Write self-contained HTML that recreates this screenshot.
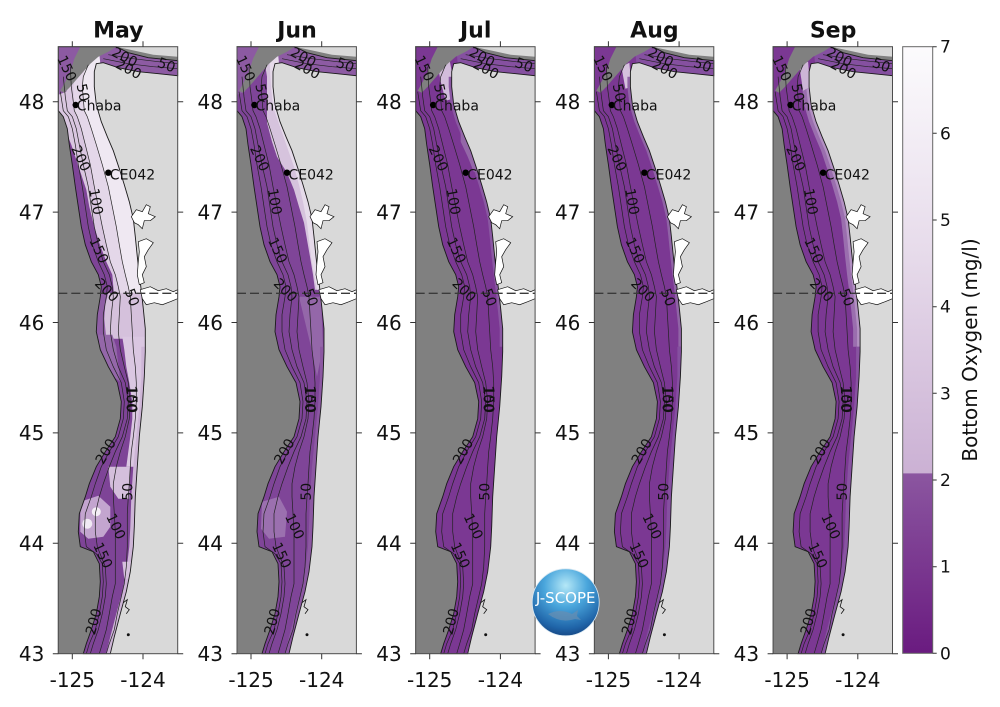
<!DOCTYPE html>
<html>
<head>
<meta charset="utf-8">
<style>
html,body{margin:0;padding:0;background:#fff;}
svg{display:block;}
text{font-family:"DejaVu Sans","Liberation Sans",sans-serif;fill:#111;}
.tt{font-size:22px;font-weight:bold;text-anchor:middle;}
.yl{font-size:20px;text-anchor:end;}
.xl{font-size:20px;text-anchor:middle;}
.cl{font-size:14px;text-anchor:middle;dominant-baseline:central;}
.pl{font-size:14px;}
.cb{font-size:17px;}
</style>
</head>
<body>
<svg width="1000" height="707" viewBox="0 0 1000 707" xmlns="http://www.w3.org/2000/svg">
<defs>
<path id="shelfP" d="M0,0 L58,0 L70,6 L90,11 L119.4,14 L119.4,29 L100,27 L80,25 L60,21 L45,16 L38,17 L36,25 L36,40 L38,58 L43,75 L49,90 L55,104 L61,122 L66,138 L71,155 L75,172 L77,190 L79,210 L81,228 L83,244 L85,262 L87,282 L87,305 L86,330 L84,360 L81,390 L79,420 L77,450 L76,480 L75,500 L72,525 L68,545 L62,567 L56,590 L52,607 L25,607 L28,597 L33,583 L38,567 L41,550 L42,535 L41,517 L35,505 L22,500 L20,485 L21,467 L27,450 L31,437 L38,420 L47,405 L57,390 L62,372 L63,355 L59,336 L50,320 L42,303 L38,285 L39,268 L42,250 L43,240 L40,228 L33,215 L27,198 L23,180 L20,160 L17,140 L14,118 L11,98 L9,82 L5,70 L0,64 Z"/>
<clipPath id="sc"><use href="#shelfP"/></clipPath>
<g id="base">
<rect x="0" y="0" width="119.4" height="607" fill="#d9d9d9"/>
<path d="M-0.5,64 L0,64 L5,70 L9,82 L11,98 L14,118 L17,140 L20,160 L23,180 L27,198 L33,215 L40,228 L43,240 L42,250 L39,268 L38,285 L42,303 L50,320 L59,336 L63,355 L62,372 L57,390 L47,405 L38,420 L31,437 L27,450 L21,467 L20,485 L22,500 L35,505 L41,517 L42,535 L41,550 L38,567 L33,583 L28,597 L25,607 L-0.5,607 Z" fill="#808080"/>
</g>
<g id="canyon">
<path d="M22,0 L58,0 L50,5 L40,10 L32,17 L25,25 L18,33 L12,40 L6,46 L2,44 L7,35 L12,25 L16,12 Z" fill="#808080"/>
<path d="M58,0 L72,3 L95,8 L119.4,10 L119.4,14 L90,11 L70,6 Z" fill="#808080"/>
</g>
<g id="over">
<g fill="none" stroke="#222" stroke-width="0.7">
<path d="M2,45 L5,64 L10,70 L14,82 L17,98 L20,118 L24,140 L27,160 L30,180 L34,198 L40,215 L46,228 L49,240 L48,250 L45,268 L45,285 L48,303 L55,320 L63,336 L66,355 L65,372 L60,390 L51,405 L43,420 L37,437 L33,450 L27,467 L26,485 L28,500 L38,507 L44,517 L45,535 L44,550 L41,567 L37,583 L31,597 L28,607"/>
<path d="M5,30 L7,50 L9,64 L14,70 L18,82 L21,98 L25,118 L30,140 L33,160 L36,180 L40,198 L45,215 L51,228 L54,240 L55,250 L53,268 L52,285 L55,303 L60,320 L67,336 L70,355 L69,372 L64,390 L57,405 L51,420 L45,437 L41,450 L37,467 L37,485 L39,500 L43,510 L47,520 L48,537 L47,550 L44,567 L40,583 L35,597 L32,607"/>
<path d="M12,20 L13,40 L15,55 L16,64 L19,70 L23,82 L27,98 L32,118 L36,140 L40,160 L44,180 L48,198 L52,215 L57,228 L60,240 L62,250 L61,268 L60,285 L62,303 L66,320 L70,336 L72,355 L71,372 L67,390 L62,405 L58,420 L55,437 L55,450 L56,467 L57,485 L57,500 L57,520 L57,537 L54,550 L51,567 L48,583 L44,597 L41,607"/>
<path d="M30,18 L25,30 L24,40 L26,64 L29,70 L33,82 L38,98 L44,118 L50,140 L54,160 L58,180 L61,198 L64,215 L67,228 L70,240 L72,250 L73,268 L74,285 L75,303 L77,320 L78,336 L78,355 L77,372 L75,390 L73,405 L72,420 L71,437 L70,450 L69,467 L69,485 L69,500 L68,520 L66,537 L63,550 L59,567 L56,583 L51,597 L48,607"/>
<path d="M45,12 L70,17 L95,20 L119.4,22"/>
<path d="M50,8 L75,12 L100,15 L119.4,17"/>
</g>
<use href="#shelfP" fill="none" stroke="#1a1a1a" stroke-width="0.9"/>
<g fill="#fff" stroke="#111" stroke-width="0.7">
<path d="M73,170 L78,163 L84,165 L88,158 L92,160 L90,167 L97,170 L92,174 L86,174 L84,182 L80,178 L76,176 Z"/>
<path d="M80,195 L88,192 L95,196 L90,203 L86,210 L88,220 L84,228 L86,236 L81,238 L79,228 L80,215 L81,205 Z"/>
<path d="M82,243 L92,240 L100,244 L108,242 L115,245 L119.4,243 L119.4,252 L112,255 L104,258 L96,256 L88,258 L84,252 Z"/>
</g>
<path d="M65,556 L69,553 L67,560 L71,563 L68,567" fill="none" stroke="#111" stroke-width="0.8"/>
<circle cx="70" cy="588" r="1.5" fill="#111"/>
<line x1="0" y1="246.6" x2="119.4" y2="246.6" stroke="#3a3a3a" stroke-width="1.3" stroke-dasharray="9,4"/>
<circle cx="17.4" cy="58.3" r="3.2" fill="#000"/>
<circle cx="50" cy="126" r="3.2" fill="#000"/>
<rect x="0" y="0" width="119.4" height="607" fill="none" stroke="#4d4d4d" stroke-width="1"/>
<path d="M0,55h-5.5M0,165.4h-5.5M0,275.8h-5.5M0,386.2h-5.5M0,496.6h-5.5M0,607h-5.5M119.4,55h5.5M119.4,165.4h5.5M119.4,275.8h5.5M119.4,386.2h5.5M119.4,496.6h5.5M119.4,607h5.5M14,0v-5.5M84.7,0v-5.5M14,607v5.5M84.7,607v5.5" stroke="#333" stroke-width="1" fill="none"/>
</g>
<path id="cs7" d="M29,30 L29,40 L31,58 L36,75 L42,90 L48,104 L54,122 L59,138 L64,155 L68,172 L70,190 L72,210 L74,228 L76,244 L78,262 L80,282 L80,300 L130,300 L130,30 Z"/>
<path id="cs3" d="M33,30 L33,40 L35,58 L40,75 L46,90 L52,104 L58,122 L63,138 L68,155 L72,172 L74,190 L76,210 L78,228 L80,244 L82,262 L84,282 L84,300 L130,300 L130,30 Z"/>
<path id="css" d="M83,300 L83,330 L81,360 L78,390 L75,420 L73,450 L72,480 L71,500 L68,525 L64,545 L58,567 L52,590 L48,607 L130,607 L130,300 Z"/>
<path id="corner" d="M-5,-5 L25,-5 L18,15 L12,30 L8,45 L-5,50 Z"/>
<path id="strait" d="M40,-5 L130,-5 L130,32 L80,27 L55,22 L42,17 Z"/>
<linearGradient id="cbl" x1="0" y1="0" x2="0" y2="1"><stop offset="0" stop-color="#fcfbfd"/><stop offset="0.5" stop-color="#e6daea"/><stop offset="1" stop-color="#cbb1d4"/></linearGradient>
<linearGradient id="cbd" x1="0" y1="0" x2="0" y2="1"><stop offset="0" stop-color="#8b56a0"/><stop offset="1" stop-color="#6a1b80"/></linearGradient>
<radialGradient id="lg" cx="50%" cy="25%" r="80%"><stop offset="0" stop-color="#b5e8f7"/><stop offset="0.4" stop-color="#4aa6dc"/><stop offset="0.8" stop-color="#1f64a8"/><stop offset="1" stop-color="#153f7a"/></radialGradient>
</defs>

<!-- ===== MAY ===== -->
<g transform="translate(58.3,46.7)">
<use href="#base"/>
<g clip-path="url(#sc)">
<rect x="-5" y="-5" width="130" height="620" fill="#7e4497"/>
<path d="M-5,-5 L130,-5 L130,250 L56,250 L55,240 L54,228 L48,215 L41,196 L36,180 L31,160 L28,143 L22,125 L17,110 L13,98 L9,88 L4,76 L-5,70 Z" fill="#d9c6e0"/>
<path d="M20,10 L15,40 L16,64 L19,70 L23,82 L27,98 L32,118 L36,140 L40,160 L44,180 L48,198 L52,215 L57,228 L60,240 L62,250 L130,250 L130,10 Z" fill="#e4d7e9"/>
<path d="M28,10 L24,40 L26,64 L29,70 L33,82 L38,98 L44,118 L50,140 L54,160 L58,180 L61,198 L64,215 L67,228 L70,240 L72,250 L130,250 L130,10 Z" fill="#efe8f2"/>
<use href="#corner" fill="#8c5aa2"/>
<use href="#strait" fill="#8d5ba3"/>
<path d="M-5,246 L130,246 L130,292 L-5,292 Z" fill="#d5c1dc"/>
<path d="M-5,246 L50,246 L47,258 L46,272 L48,292 L-5,292 Z" fill="#8f5ea5"/>
<path d="M64,290 L66,303 L68,320 L71,336 L74,355 L74,372 L72,390 L70,405 L68,420 L130,420 L130,290 Z" fill="#dac7e1"/>
<path d="M40,288 L54,288 L58,300 L60,318 L62,335 L55,330 L47,315 L41,300 Z" fill="#9467a9"/>
<path d="M50,420 L72,420 L71,452 L60,452 L52,440 Z" fill="#d4bfdc"/>
<path d="M22,455 L40,449 L52,460 L52,480 L45,490 L30,492 L22,485 Z" fill="#c3a5cf"/>
<circle cx="38" cy="465" r="4.5" fill="#f4eef6"/>
<circle cx="29" cy="477" r="5" fill="#f1eaf4"/>
<use href="#css" fill="#cdb5d6"/>
<path d="M64,515 L76,515 L76,532 L66,532 Z" fill="#d6c1dd"/>
</g>
<use href="#canyon"/>
<use href="#over"/>
<text class="tt" x="60" y="-9.4">May</text>
<text class="pl" x="18.5" y="64">Chaba</text>
<text class="pl" x="51.5" y="132.6">CE042</text>
<text class="cl" transform="rotate(78 24 46)" x="24" y="46">50</text>
<text class="cl" transform="rotate(65 22 112)" x="22" y="112">200</text>
<text class="cl" transform="rotate(80 37 155)" x="37" y="155">100</text>
<text class="cl" transform="rotate(65 40 204)" x="40" y="204">150</text>
<text class="cl" transform="rotate(45 48 244)" x="48" y="244">200</text>
<text class="cl" transform="rotate(70 73 251)" x="73" y="251">50</text>
<text class="cl" transform="rotate(90 72 352)" x="72" y="352">100</text>
<text class="cl" transform="rotate(90 72.5 353)" x="72.5" y="353">150</text>
<text class="cl" transform="rotate(-60 48 405)" x="48" y="405">200</text>
<text class="cl" transform="rotate(-90 70 445)" x="70" y="445">50</text>
<text class="cl" transform="rotate(65 57 480)" x="57" y="480">100</text>
<text class="cl" transform="rotate(65 44 509)" x="44" y="509">150</text>
<text class="cl" transform="rotate(-75 36 575)" x="36" y="575">200</text>
<text class="cl" transform="rotate(65 8 22)" x="8" y="22">150</text>
<text class="cl" transform="rotate(28 66 11)" x="66" y="11">200</text>
<text class="cl" transform="rotate(28 70 23)" x="70" y="23">200</text>
<text class="cl" transform="rotate(20 108 19)" x="108" y="19">50</text>
<text class="yl" x="-14" y="62.3">48</text>
<text class="yl" x="-14" y="172.7">47</text>
<text class="yl" x="-14" y="283.1">46</text>
<text class="yl" x="-14" y="393.5">45</text>
<text class="yl" x="-14" y="503.9">44</text>
<text class="yl" x="-14" y="614.3">43</text>
<text class="xl" x="14" y="640.3">-125</text>
<text class="xl" x="84.7" y="640.3">-124</text>
</g>

<!-- ===== JUN ===== -->
<g transform="translate(237,46.7)">
<use href="#base"/>
<g clip-path="url(#sc)">
<rect x="-5" y="-5" width="130" height="620" fill="#7f4598"/>
<path d="M26,5 L30,30 L30,76 L35,95 L40,110 L50,126 L57,143 L62,160 L67,176 L70,193 L73,210 L76,228 L78,243 L130,243 L130,5 Z" fill="#d6c3dd"/>
<path d="M32,5 L34,40 L36,60 L43,80 L50,100 L57,120 L62,138 L66,155 L70,176 L74,210 L77,228 L80,243 L130,243 L130,5 Z" fill="#e6dbea"/>
<use href="#corner" fill="#8c5aa2"/>
<use href="#strait" fill="#8d5ba3"/>
<path d="M62,250 L84,250 L86,300 L80,330 L74,300 L68,275 Z" fill="#9467a9"/>
<path d="M25,455 L42,450 L50,465 L48,490 L32,492 L24,482 Z" fill="#9b70af"/>
<use href="#css" fill="#8c58a2"/>
</g>
<use href="#canyon"/>
<use href="#over"/>
<text class="tt" x="60" y="-9.4">Jun</text>
<text class="pl" x="18.5" y="64">Chaba</text>
<text class="pl" x="51.5" y="132.6">CE042</text>
<text class="cl" transform="rotate(78 24 46)" x="24" y="46">50</text>
<text class="cl" transform="rotate(65 22 112)" x="22" y="112">200</text>
<text class="cl" transform="rotate(80 37 155)" x="37" y="155">100</text>
<text class="cl" transform="rotate(65 40 204)" x="40" y="204">150</text>
<text class="cl" transform="rotate(45 48 244)" x="48" y="244">200</text>
<text class="cl" transform="rotate(70 73 251)" x="73" y="251">50</text>
<text class="cl" transform="rotate(90 72 352)" x="72" y="352">100</text>
<text class="cl" transform="rotate(90 72.5 353)" x="72.5" y="353">150</text>
<text class="cl" transform="rotate(-60 48 405)" x="48" y="405">200</text>
<text class="cl" transform="rotate(-90 70 445)" x="70" y="445">50</text>
<text class="cl" transform="rotate(65 57 480)" x="57" y="480">100</text>
<text class="cl" transform="rotate(65 44 509)" x="44" y="509">150</text>
<text class="cl" transform="rotate(-75 36 575)" x="36" y="575">200</text>
<text class="cl" transform="rotate(65 8 22)" x="8" y="22">150</text>
<text class="cl" transform="rotate(28 66 11)" x="66" y="11">200</text>
<text class="cl" transform="rotate(28 70 23)" x="70" y="23">200</text>
<text class="cl" transform="rotate(20 108 19)" x="108" y="19">50</text>
<text class="yl" x="-14" y="62.3">48</text>
<text class="yl" x="-14" y="172.7">47</text>
<text class="yl" x="-14" y="283.1">46</text>
<text class="yl" x="-14" y="393.5">45</text>
<text class="yl" x="-14" y="503.9">44</text>
<text class="yl" x="-14" y="614.3">43</text>
<text class="xl" x="14" y="640.3">-125</text>
<text class="xl" x="84.7" y="640.3">-124</text>
</g>

<!-- ===== JUL ===== -->
<g transform="translate(415.7,46.7)">
<use href="#base"/>
<g clip-path="url(#sc)">
<rect x="-5" y="-5" width="130" height="620" fill="#7b3893"/>
<use href="#strait" fill="#8550a0"/>
<path d="M22,18 L34,14 L37,30 L37,52 L30,54 L25,35 Z" fill="#d2bcdb"/>
<use href="#cs3" fill="#8a58a2"/>
<path d="M45,80 L52,95 L58,110 L64,125 L58,125 L52,110 L45,95 Z" fill="#9467a8"/>
</g>
<use href="#canyon"/>
<use href="#over"/>
<text class="tt" x="60" y="-9.4">Jul</text>
<text class="pl" x="18.5" y="64">Chaba</text>
<text class="pl" x="51.5" y="132.6">CE042</text>
<text class="cl" transform="rotate(78 24 46)" x="24" y="46">50</text>
<text class="cl" transform="rotate(65 22 112)" x="22" y="112">200</text>
<text class="cl" transform="rotate(80 37 155)" x="37" y="155">100</text>
<text class="cl" transform="rotate(65 40 204)" x="40" y="204">150</text>
<text class="cl" transform="rotate(45 48 244)" x="48" y="244">200</text>
<text class="cl" transform="rotate(70 73 251)" x="73" y="251">50</text>
<text class="cl" transform="rotate(90 72 352)" x="72" y="352">100</text>
<text class="cl" transform="rotate(90 72.5 353)" x="72.5" y="353">150</text>
<text class="cl" transform="rotate(-60 48 405)" x="48" y="405">200</text>
<text class="cl" transform="rotate(-90 70 445)" x="70" y="445">50</text>
<text class="cl" transform="rotate(65 57 480)" x="57" y="480">100</text>
<text class="cl" transform="rotate(65 44 509)" x="44" y="509">150</text>
<text class="cl" transform="rotate(-75 36 575)" x="36" y="575">200</text>
<text class="cl" transform="rotate(65 8 22)" x="8" y="22">150</text>
<text class="cl" transform="rotate(28 66 11)" x="66" y="11">200</text>
<text class="cl" transform="rotate(28 70 23)" x="70" y="23">200</text>
<text class="cl" transform="rotate(20 108 19)" x="108" y="19">50</text>
<text class="yl" x="-14" y="62.3">48</text>
<text class="yl" x="-14" y="172.7">47</text>
<text class="yl" x="-14" y="283.1">46</text>
<text class="yl" x="-14" y="393.5">45</text>
<text class="yl" x="-14" y="503.9">44</text>
<text class="yl" x="-14" y="614.3">43</text>
<text class="xl" x="14" y="640.3">-125</text>
<text class="xl" x="84.7" y="640.3">-124</text>
</g>

<!-- ===== AUG ===== -->
<g transform="translate(594.4,46.7)">
<use href="#base"/>
<g clip-path="url(#sc)">
<rect x="-5" y="-5" width="130" height="620" fill="#7b3893"/>
<use href="#strait" fill="#8550a0"/>
<path d="M27,20 L35,16 L37,40 L31,42 Z" fill="#d5c1dd"/>
<use href="#cs3" fill="#9064a6"/>
<use href="#css" fill="#8550a0"/>
</g>
<use href="#canyon"/>
<use href="#over"/>
<text class="tt" x="60" y="-9.4">Aug</text>
<text class="pl" x="18.5" y="64">Chaba</text>
<text class="pl" x="51.5" y="132.6">CE042</text>
<text class="cl" transform="rotate(78 24 46)" x="24" y="46">50</text>
<text class="cl" transform="rotate(65 22 112)" x="22" y="112">200</text>
<text class="cl" transform="rotate(80 37 155)" x="37" y="155">100</text>
<text class="cl" transform="rotate(65 40 204)" x="40" y="204">150</text>
<text class="cl" transform="rotate(45 48 244)" x="48" y="244">200</text>
<text class="cl" transform="rotate(70 73 251)" x="73" y="251">50</text>
<text class="cl" transform="rotate(90 72 352)" x="72" y="352">100</text>
<text class="cl" transform="rotate(90 72.5 353)" x="72.5" y="353">150</text>
<text class="cl" transform="rotate(-60 48 405)" x="48" y="405">200</text>
<text class="cl" transform="rotate(-90 70 445)" x="70" y="445">50</text>
<text class="cl" transform="rotate(65 57 480)" x="57" y="480">100</text>
<text class="cl" transform="rotate(65 44 509)" x="44" y="509">150</text>
<text class="cl" transform="rotate(-75 36 575)" x="36" y="575">200</text>
<text class="cl" transform="rotate(65 8 22)" x="8" y="22">150</text>
<text class="cl" transform="rotate(28 66 11)" x="66" y="11">200</text>
<text class="cl" transform="rotate(28 70 23)" x="70" y="23">200</text>
<text class="cl" transform="rotate(20 108 19)" x="108" y="19">50</text>
<text class="yl" x="-14" y="62.3">48</text>
<text class="yl" x="-14" y="172.7">47</text>
<text class="yl" x="-14" y="283.1">46</text>
<text class="yl" x="-14" y="393.5">45</text>
<text class="yl" x="-14" y="503.9">44</text>
<text class="yl" x="-14" y="614.3">43</text>
<text class="xl" x="14" y="640.3">-125</text>
<text class="xl" x="84.7" y="640.3">-124</text>
</g>

<!-- ===== SEP ===== -->
<g transform="translate(773.1,46.7)">
<use href="#base"/>
<g clip-path="url(#sc)">
<rect x="-5" y="-5" width="130" height="620" fill="#7b3893"/>
<use href="#strait" fill="#8550a0"/>
<use href="#cs7" fill="#9a6eae"/>
<use href="#cs3" fill="#b290c2"/>
<path d="M26,18 L35,15 L37,40 L30,44 Z" fill="#cdb5d6"/>
<use href="#css" fill="#8853a1"/>
</g>
<use href="#canyon"/>
<use href="#over"/>
<text class="tt" x="60" y="-9.4">Sep</text>
<text class="pl" x="18.5" y="64">Chaba</text>
<text class="pl" x="51.5" y="132.6">CE042</text>
<text class="cl" transform="rotate(78 24 46)" x="24" y="46">50</text>
<text class="cl" transform="rotate(65 22 112)" x="22" y="112">200</text>
<text class="cl" transform="rotate(80 37 155)" x="37" y="155">100</text>
<text class="cl" transform="rotate(65 40 204)" x="40" y="204">150</text>
<text class="cl" transform="rotate(45 48 244)" x="48" y="244">200</text>
<text class="cl" transform="rotate(70 73 251)" x="73" y="251">50</text>
<text class="cl" transform="rotate(90 72 352)" x="72" y="352">100</text>
<text class="cl" transform="rotate(90 72.5 353)" x="72.5" y="353">150</text>
<text class="cl" transform="rotate(-60 48 405)" x="48" y="405">200</text>
<text class="cl" transform="rotate(-90 70 445)" x="70" y="445">50</text>
<text class="cl" transform="rotate(65 57 480)" x="57" y="480">100</text>
<text class="cl" transform="rotate(65 44 509)" x="44" y="509">150</text>
<text class="cl" transform="rotate(-75 36 575)" x="36" y="575">200</text>
<text class="cl" transform="rotate(65 8 22)" x="8" y="22">150</text>
<text class="cl" transform="rotate(28 66 11)" x="66" y="11">200</text>
<text class="cl" transform="rotate(28 70 23)" x="70" y="23">200</text>
<text class="cl" transform="rotate(20 108 19)" x="108" y="19">50</text>
<text class="yl" x="-14" y="62.3">48</text>
<text class="yl" x="-14" y="172.7">47</text>
<text class="yl" x="-14" y="283.1">46</text>
<text class="yl" x="-14" y="393.5">45</text>
<text class="yl" x="-14" y="503.9">44</text>
<text class="yl" x="-14" y="614.3">43</text>
<text class="xl" x="14" y="640.3">-125</text>
<text class="xl" x="84.7" y="640.3">-124</text>
</g>

<!-- ===== COLORBAR ===== -->
<rect x="902.7" y="46.7" width="30" height="426.6" fill="url(#cbl)"/>
<rect x="902.7" y="473.3" width="30" height="180" fill="url(#cbd)"/>
<rect x="902.7" y="46.7" width="30" height="606.6" fill="none" stroke="#666" stroke-width="1"/>
<path d="M932.7,653.3h4M932.7,566.7h4M932.7,480h4M932.7,393.3h4M932.7,306.7h4M932.7,220h4M932.7,133.3h4M932.7,46.7h4" stroke="#333" stroke-width="1"/>
<text class="cb" x="940" y="659.3">0</text>
<text class="cb" x="940" y="572.7">1</text>
<text class="cb" x="940" y="486">2</text>
<text class="cb" x="940" y="399.3">3</text>
<text class="cb" x="940" y="312.7">4</text>
<text class="cb" x="940" y="226">5</text>
<text class="cb" x="940" y="139.3">6</text>
<text class="cb" x="940" y="52.7">7</text>
<text x="977" y="350" transform="rotate(-90 977 350)" style="font-size:20px;text-anchor:middle;">Bottom Oxygen (mg/l)</text>

<!-- ===== LOGO ===== -->
<circle cx="565.7" cy="602.3" r="33.5" fill="url(#lg)"/>
<path d="M548,614 q12,-6 24,0 l6,-4 l-1,6 l4,4 l-6,-1 q-14,5 -27,-5 z" fill="#6a8fb0" opacity="0.7"/>
<circle cx="565.7" cy="602.3" r="33.5" fill="none" stroke="#d8e8f2" stroke-width="0.8"/>
<text x="565.7" y="603" style="font-size:15px;fill:#fff;text-anchor:middle;">J-SCOPE</text>
</svg>
</body>
</html>
